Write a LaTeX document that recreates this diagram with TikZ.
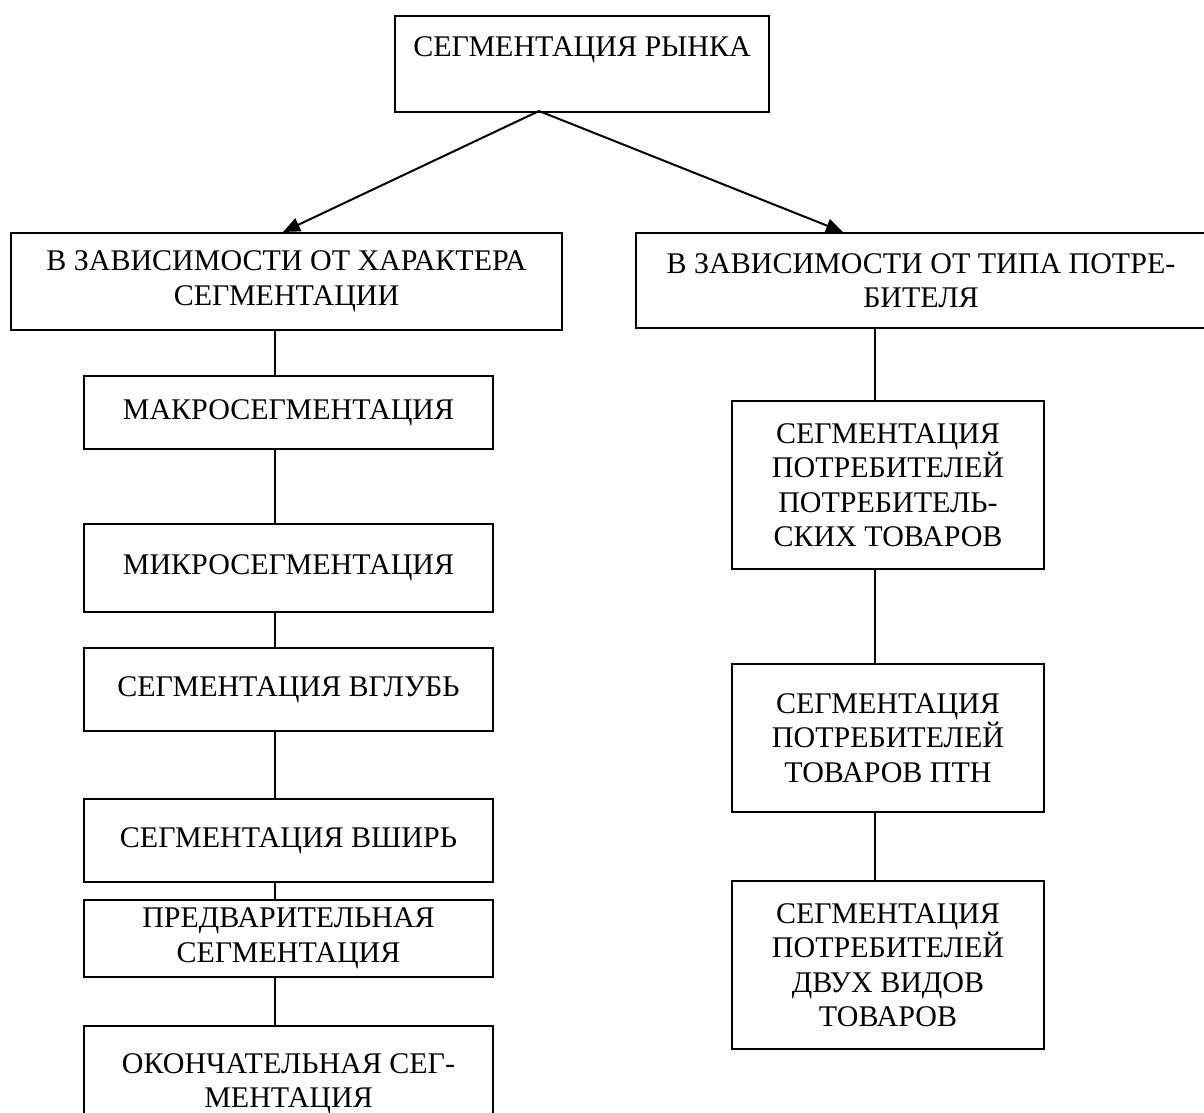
\documentclass[tikz,border=0pt]{standalone}
\usepackage{fontspec}
\setmainfont{Liberation Serif}
\usetikzlibrary{arrows.meta}
\begin{document}
\begin{tikzpicture}[x=1pt,y=-1pt,
  box/.style={draw, line width=2pt, anchor=north west, align=center,
    font=\fontsize{30}{34.5}\selectfont, inner sep=0pt},
  link/.style={line width=2pt},
  arr/.style={line width=2pt, -{Triangle[length=17pt,width=14pt]}}]
\useasboundingbox (0,0) rectangle (1204,1113);
\clip (0,0) rectangle (1204,1113);
% top
\node[box, minimum width=374pt, minimum height=96pt] (top) at (394,15) {СЕГМЕНТАЦИЯ РЫНКА\\ \mbox{}};
% second level
\node[box, minimum width=551pt, minimum height=97pt] (lft) at (10,232) {В ЗАВИСИМОСТИ ОТ ХАРАКТЕРА\\СЕГМЕНТАЦИИ};
\node[box, minimum width=570pt, minimum height=95pt] (rgt) at (635,232) {В ЗАВИСИМОСТИ ОТ ТИПА ПОТРЕ-\\БИТЕЛЯ};
% left column
\node[box, minimum width=409pt, minimum height=73pt] (m1) at (83,375) {МАКРОСЕГМЕНТАЦИЯ};
\node[box, minimum width=409pt, minimum height=88pt] (m2) at (83,523) {МИКРОСЕГМЕНТАЦИЯ};
\node[box, minimum width=409pt, minimum height=83pt] (m3) at (83,647) {СЕГМЕНТАЦИЯ ВГЛУБЬ};
\node[box, minimum width=409pt, minimum height=83pt] (m4) at (83,798) {СЕГМЕНТАЦИЯ ВШИРЬ};
\node[box, minimum width=409pt, minimum height=77pt] (m5) at (83,899) {ПРЕДВАРИТЕЛЬНАЯ\\СЕГМЕНТАЦИЯ};
\node[box, minimum width=409pt, minimum height=144pt] (m6) at (83,1025) {ОКОНЧАТЕЛЬНАЯ СЕГ-\\МЕНТАЦИЯ\\ \mbox{}};
% right column
\node[box, minimum width=312pt, minimum height=168pt] (r1) at (731,400) {СЕГМЕНТАЦИЯ\\ПОТРЕБИТЕЛЕЙ\\ПОТРЕБИТЕЛЬ-\\СКИХ ТОВАРОВ};
\node[box, minimum width=312pt, minimum height=148pt] (r2) at (731,663) {СЕГМЕНТАЦИЯ\\ПОТРЕБИТЕЛЕЙ\\ТОВАРОВ ПТН};
\node[box, minimum width=312pt, minimum height=168pt] (r3) at (731,880) {СЕГМЕНТАЦИЯ\\ПОТРЕБИТЕЛЕЙ\\ДВУХ ВИДОВ\\ТОВАРОВ};
% arrows
\coordinate (src) at (539,111);
\coordinate (tl) at (283,232);
\coordinate (tr) at (843,232);
\draw[arr] (src) -- (tl);
\draw[arr] (src) -- (tr);
% connectors
\coordinate (lc) at (275,0);
\coordinate (rc) at (875,0);
\draw[link] (lc |- lft.south) -- (lc |- m1.north);
\draw[link] (lc |- m1.south) -- (lc |- m2.north);
\draw[link] (lc |- m2.south) -- (lc |- m3.north);
\draw[link] (lc |- m3.south) -- (lc |- m4.north);
\draw[link] (lc |- m4.south) -- (lc |- m5.north);
\draw[link] (lc |- m5.south) -- (lc |- m6.north);
\draw[link] (rc |- rgt.south) -- (rc |- r1.north);
\draw[link] (rc |- r1.south) -- (rc |- r2.north);
\draw[link] (rc |- r2.south) -- (rc |- r3.north);
\end{tikzpicture}
\end{document}
